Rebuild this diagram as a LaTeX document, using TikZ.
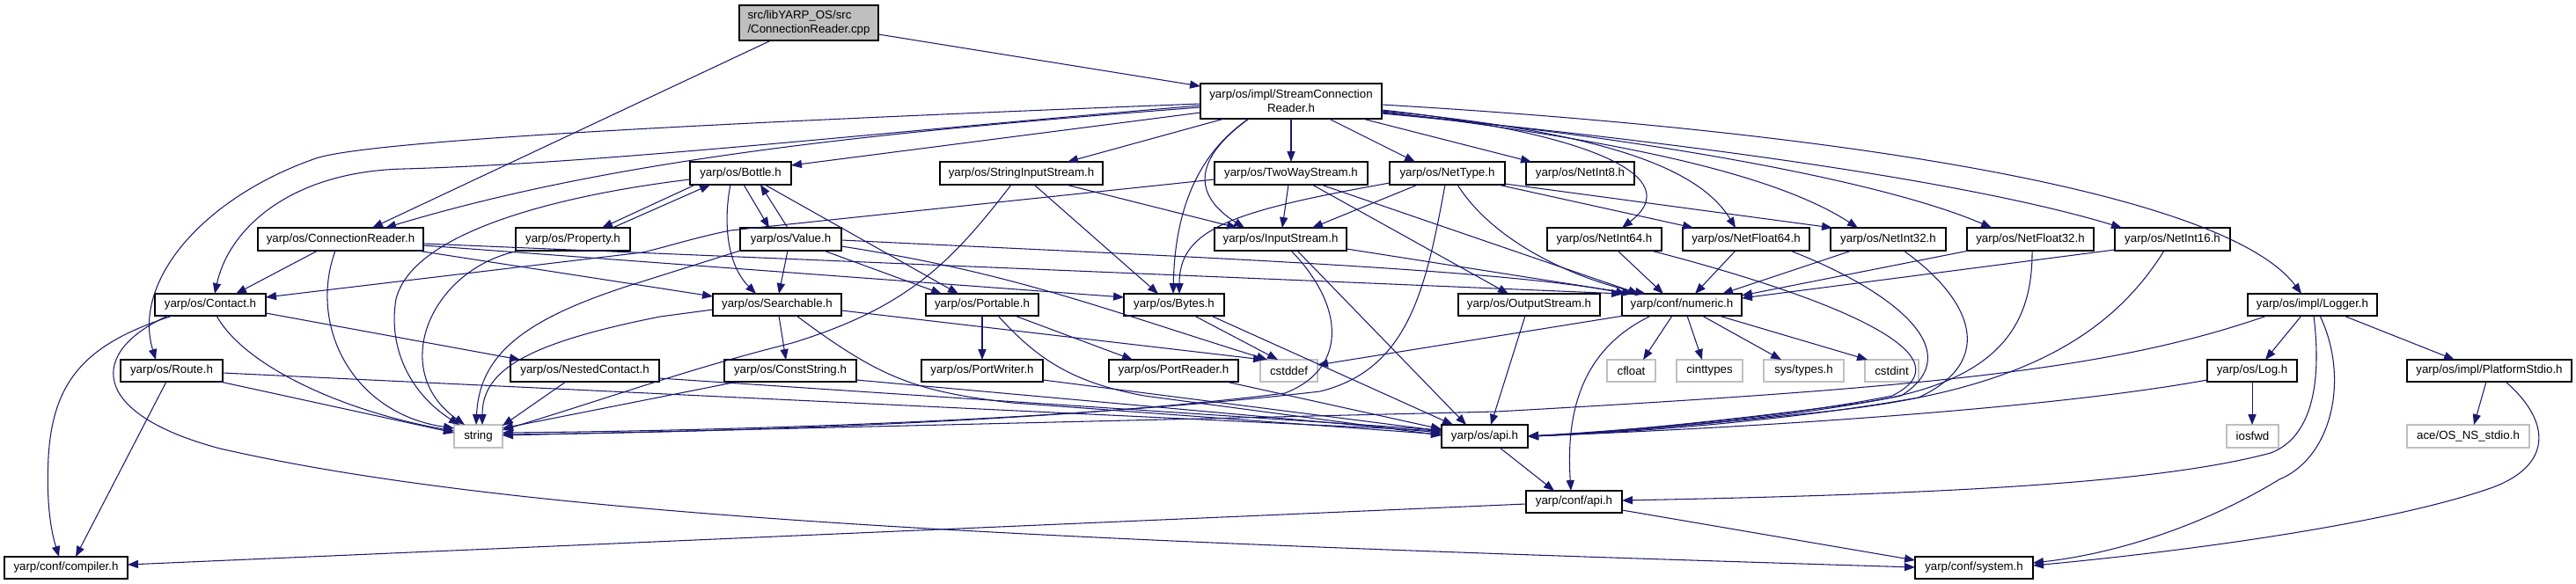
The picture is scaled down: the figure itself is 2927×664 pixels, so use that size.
\documentclass[tikz,border=0pt]{standalone}
\usepackage{fontspec}
\setmainfont{Liberation Sans}
\usetikzlibrary{arrows.meta}
\definecolor{edgecol}{HTML}{191970}
\definecolor{gray75}{HTML}{BFBFBF}
\newcommand\fsz{\fontsize{3.78pt}{4.45pt}\selectfont}
\newcommand\gnode[7]{\node[#2, minimum width={(#5-#3)*0.01cm}, minimum height={(#6-#4)*0.01cm}] (#1) at ({(#3+#5)/2},{(#4+#6)/2}) {#7};}
\tikzset{
 nd/.style={draw=black, line width=0.38pt, fill=white, inner sep=0pt, outer sep=0pt, font=\fsz, text=black},
 ext/.style={nd, draw=gray75},
 rootnd/.style={nd, fill=gray75},
 e/.style={draw=edgecol, line width=0.3pt, -{Triangle[length=3.4pt,width=2.6pt]}}
}
\begin{document}
\begin{tikzpicture}[x=0.01cm, y=-0.01cm]
\useasboundingbox[fill=white] (0,0) rectangle (2927,664);
% nodes
\gnode{root}{rootnd, align=left}{840}{6}{998}{46}{src/libYARP\_OS/src\\/ConnectionReader.cpp}
\gnode{stream}{nd, align=center}{1364}{95}{1570}{135}{yarp/os/impl/StreamConnection\\Reader.h}
\gnode{bottle}{nd}{784}{184}{899}{210}{yarp/os/Bottle.h}
\gnode{sis}{nd}{1068}{184}{1253}{210}{yarp/os/StringInputStream.h}
\gnode{twoway}{nd}{1380}{184}{1554}{210}{yarp/os/TwoWayStream.h}
\gnode{nettype}{nd}{1579}{184}{1710}{210}{yarp/os/NetType.h}
\gnode{netint8}{nd}{1734}{184}{1857}{210}{yarp/os/NetInt8.h}
\gnode{connreader}{nd}{293}{259}{481}{285}{yarp/os/ConnectionReader.h}
\gnode{property}{nd}{586}{259}{716}{285}{yarp/os/Property.h}
\gnode{value}{nd}{841}{259}{956}{285}{yarp/os/Value.h}
\gnode{inputstream}{nd}{1380}{259}{1530}{285}{yarp/os/InputStream.h}
\gnode{netint64}{nd}{1758}{259}{1888}{285}{yarp/os/NetInt64.h}
\gnode{netfloat64}{nd}{1912}{259}{2056}{285}{yarp/os/NetFloat64.h}
\gnode{netint32}{nd}{2080}{259}{2211}{285}{yarp/os/NetInt32.h}
\gnode{netfloat32}{nd}{2235}{259}{2379}{285}{yarp/os/NetFloat32.h}
\gnode{netint16}{nd}{2403}{259}{2534}{285}{yarp/os/NetInt16.h}
\gnode{contact}{nd}{176}{334}{302}{359}{yarp/os/Contact.h}
\gnode{searchable}{nd}{810}{334}{956}{359}{yarp/os/Searchable.h}
\gnode{portable}{nd}{1052}{334}{1180}{359}{yarp/os/Portable.h}
\gnode{bytes}{nd}{1277}{334}{1391}{359}{yarp/os/Bytes.h}
\gnode{outputstream}{nd}{1657}{334}{1818}{359}{yarp/os/OutputStream.h}
\gnode{numeric}{nd}{1843}{334}{1979}{359}{yarp/conf/numeric.h}
\gnode{logger}{nd}{2554}{334}{2701}{359}{yarp/os/impl/Logger.h}
\gnode{route}{nd}{137}{409}{253}{434}{yarp/os/Route.h}
\gnode{nested}{nd}{580}{409}{749}{434}{yarp/os/NestedContact.h}
\gnode{conststring}{nd}{823}{409}{973}{434}{yarp/os/ConstString.h}
\gnode{portwriter}{nd}{1047}{409}{1185}{434}{yarp/os/PortWriter.h}
\gnode{portreader}{nd}{1260}{409}{1407}{434}{yarp/os/PortReader.h}
\gnode{cstddef}{ext}{1432}{409}{1497}{434}{cstddef}
\gnode{cfloat}{ext}{1826}{409}{1881}{434}{cfloat}
\gnode{cinttypes}{ext}{1905}{409}{1980}{434}{cinttypes}
\gnode{systypes}{ext}{2004}{409}{2095}{434}{sys/types.h}
\gnode{cstdint}{ext}{2119}{409}{2180}{434}{cstdint}
\gnode{log}{nd}{2508}{409}{2610}{434}{yarp/os/Log.h}
\gnode{platform}{nd}{2735}{409}{2922}{434}{yarp/os/impl/PlatformStdio.h}
\gnode{string}{ext}{516}{483}{571}{509}{string}
\gnode{osapi}{nd}{1638}{483}{1736}{509}{yarp/os/api.h}
\gnode{iosfwd}{ext}{2530}{483}{2589}{509}{iosfwd}
\gnode{acestdio}{ext}{2735}{483}{2874}{509}{ace/OS\_NS\_stdio.h}
\gnode{confapi}{nd}{1734}{558}{1843}{583}{yarp/conf/api.h}
\gnode{compiler}{nd}{5}{633}{145}{658}{yarp/conf/compiler.h}
\gnode{system}{nd}{2176}{633}{2310}{658}{yarp/conf/system.h}
% edges
\draw[e] (root.south -| 876,0) -- (connreader.north -| 423,0);
\draw[e] (root.east |- 0,39) -- (stream.west |- 0,98);
\draw[e] (stream.west |- 0,118) .. controls (800,140) and (420,160) .. (359,180) .. controls (230,225) and (150,320) .. (route.north -| 177,0);
\draw[e] (stream.west |- 0,120) .. controls (1000,150) and (700,185) .. (459,192) .. controls (330,195) and (260,260) .. (contact.north -| 244,0);
\draw[e] (stream.west |- 0,122) .. controls (1000,150) and (700,180) .. (connreader.north -| 438,0);
\draw[e] (stream.west |- 0,128) -- (bottle.east |- 0,188);
\draw[e] (stream.south -| 1391,0) -- (sis.north -| 1213,0);
\draw[e] (stream.south -| 1419,0) .. controls (1360,175) and (1335,240) .. (bytes.north -| 1333,0);
\draw[e] (stream.south -| 1419,0) .. controls (1350,185) and (1360,225) .. (inputstream.north -| 1414,0);
\draw[e] (stream.south -| 1467,0) -- (twoway.north -| 1467,0);
\draw[e] (stream.south -| 1510,0) -- (nettype.north -| 1608,0);
\draw[e] (stream.south -| 1548,0) -- (netint8.north -| 1740,0);
\draw[e] (stream.east |- 0,125) .. controls (1800,150) and (1920,200) .. (netint64.north -| 1843,0);
\draw[e] (stream.east |- 0,126) .. controls (1820,150) and (1930,190) .. (netfloat64.north -| 1972,0);
\draw[e] (stream.east |- 0,127) .. controls (1850,160) and (2020,200) .. (netint32.north -| 2111,0);
\draw[e] (stream.east |- 0,128) .. controls (1900,160) and (2150,210) .. (netfloat32.north -| 2263,0);
\draw[e] (stream.east |- 0,129) .. controls (1950,165) and (2250,210) .. (netint16.north -| 2411,0);
\draw[e] (stream.east |- 0,119) .. controls (2100,150) and (2530,220) .. (logger.north -| 2615,0);
\draw[e] (bottle.south -| 845,0) -- (value.north -| 874,0);
\draw[e] (value.north -| 895,0) -- (bottle.south -| 864,0);
\draw[e] (bottle.south -| 790,0) -- (property.north -| 684,0);
\draw[e] (property.north -| 696,0) -- (bottle.south -| 807,0);
\draw[e] (bottle.south -| 830,0) .. controls (822,250) and (825,300) .. (searchable.north -| 859,0);
\draw[e] (bottle.south -| 869,0) -- (portable.north -| 1089,0);
\draw[e] (bottle.west |- 0,204) .. controls (650,220) and (470,260) .. (450,340) .. controls (440,400) and (470,450) .. (string.north -| 522,0);
\draw[e] (property.south -| 590,0) .. controls (490,305) and (440,420) .. (string.north -| 528,0);
\draw[e] (twoway.west |- 0,204) -- (830,262) .. controls (790,270) and (760,280) .. (730,287) -- (contact.east |- 0,338);
\draw[e] (connreader.south -| 361,0) -- (contact.north -| 268,0);
\draw[e] (connreader.south -| 381,0) .. controls (350,370) and (400,470) .. (string.west |- 0,487);
\draw[e] (connreader.south -| 474,0) -- (searchable.west |- 0,337);
\draw[e] (connreader.east |- 0,279) -- (bytes.west |- 0,338);
\draw[e] (connreader.east |- 0,277) -- (numeric.north west);
\draw[e] (value.south -| 895,0) -- (searchable.north -| 885,0);
\draw[e] (value.south -| 936,0) -- (portable.north -| 1070,0);
\draw[e] (value.south west) -- (730,320) .. controls (600,360) and (545,400) .. (string.north -| 541,0);
\draw[e] (value.east |- 0,273) .. controls (1300,290) and (1700,305) .. (numeric.north -| 1848,0);
\draw[e] (value.east |- 0,280) .. controls (1150,310) and (1250,350) .. (cstddef.north -| 1440,0);
\draw[e] (searchable.south -| 885,0) -- (conststring.north -| 893,0);
\draw[e] (searchable.south -| 905,0) .. controls (1000,430) and (1040,445) .. (1150,458) -- (osapi.west |- 0,494);
\draw[e] (searchable.west |- 0,352) -- (750,360) .. controls (600,390) and (548,420) .. (string.north -| 548,0);
\draw[e] (searchable.east |- 0,353) -- (cstddef.north -| 1436,0);
\draw[e] (conststring.south -| 838,0) -- (string.east |- 0,487);
\draw[e] (conststring.east |- 0,432) -- (osapi.west |- 0,492);
\draw[e] (portable.south -| 1116,0) -- (portwriter.north -| 1116,0);
\draw[e] (portable.south -| 1153,0) -- (portreader.north -| 1287,0);
\draw[e] (portable.south -| 1134,0) .. controls (1180,410) and (1220,435) .. (1300,450) -- (osapi.west |- 0,495);
\draw[e] (portwriter.east |- 0,432) -- (osapi.west |- 0,490);
\draw[e] (portreader.south -| 1393,0) -- (osapi.west |- 0,488);
\draw[e] (bytes.south -| 1357,0) -- (cstddef.north -| 1452,0);
\draw[e] (bytes.south -| 1376,0) -- (osapi.north -| 1651,0);
\draw[e] (sis.south -| 1149,0) .. controls (1080,300) and (1030,350) .. (900,390) .. controls (780,420) and (700,450) .. (string.east |- 0,489);
\draw[e] (sis.south -| 1175,0) -- (bytes.north -| 1316,0);
\draw[e] (sis.south -| 1211,0) -- (inputstream.north -| 1406,0);
\draw[e] (twoway.south -| 1464,0) -- (inputstream.north -| 1457,0);
\draw[e] (twoway.south -| 1491,0) -- (outputstream.north -| 1714,0);
\draw[e] (twoway.south -| 1501,0) -- (numeric.north -| 1862,0);
\draw[e] (inputstream.east |- 0,283) -- (numeric.north -| 1855,0);
\draw[e] (inputstream.south -| 1467,0) .. controls (1530,350) and (1530,420) .. (1460,447) .. controls (1200,480) and (800,492) .. (string.east |- 0,494);
\draw[e] (inputstream.south -| 1474,0) -- (osapi.north -| 1666,0);
\draw[e] (nettype.west |- 0,208) .. controls (1400,240) and (1340,260) .. (bytes.north -| 1340,0);
\draw[e] (nettype.south -| 1611,0) -- (inputstream.north -| 1491,0);
\draw[e] (nettype.south -| 1642,0) .. controls (1620,330) and (1600,420) .. (1500,445) .. controls (1200,480) and (800,490) .. (string.east |- 0,492);
\draw[e] (nettype.south -| 1656,0) .. controls (1700,280) and (1800,320) .. (numeric.north -| 1870,0);
\draw[e] (nettype.south -| 1702,0) -- (netfloat64.north -| 1924,0);
\draw[e] (nettype.east |- 0,209) -- (netint32.north -| 2082,0);
\draw[e] (netint64.south -| 1838,0) -- (numeric.north -| 1890,0);
\draw[e] (netint64.south -| 1876,0) .. controls (2050,330) and (2250,400) .. (2150,450) .. controls (2000,480) and (1800,492) .. (osapi.east |- 0,496);
\draw[e] (netfloat64.south -| 1972,0) -- (numeric.north -| 1926,0);
\draw[e] (netfloat64.south -| 2034,0) .. controls (2150,330) and (2240,400) .. (2160,450) .. controls (2000,482) and (1800,493) .. (osapi.east |- 0,496);
\draw[e] (netint32.south -| 2104,0) -- (numeric.north -| 1957,0);
\draw[e] (netint32.south -| 2163,0) .. controls (2240,340) and (2270,410) .. (2180,452) .. controls (2000,484) and (1800,494) .. (osapi.east |- 0,496);
\draw[e] (netfloat32.south -| 2237,0) -- (numeric.east |- 0,336);
\draw[e] (netfloat32.south -| 2309,0) .. controls (2310,380) and (2260,440) .. (2100,460) .. controls (1950,480) and (1800,494) .. (osapi.east |- 0,496);
\draw[e] (netint16.west |- 0,284) -- (numeric.east |- 0,339);
\draw[e] (netint16.south -| 2459,0) .. controls (2400,380) and (2300,440) .. (2100,465) .. controls (1950,482) and (1800,494) .. (osapi.east |- 0,496);
\draw[e] (logger.south -| 2576,0) .. controls (2400,420) and (2200,440) .. (1700,468) -- (string.east |- 0,495);
\draw[e] (logger.south -| 2615,0) -- (log.north -| 2574,0);
\draw[e] (logger.south -| 2663,0) -- (platform.north -| 2789,0);
\draw[e] (logger.south -| 2629,0) .. controls (2640,450) and (2620,500) .. (2580,515) .. controls (2450,550) and (2200,562) .. (confapi.east |- 0,569);
\draw[e] (logger.south -| 2636,0) .. controls (2670,430) and (2650,520) .. (2590,545) .. controls (2500,600) and (2400,630) .. (system.east |- 0,640);
\draw[e] (log.south -| 2559,0) -- (iosfwd.north -| 2559,0);
\draw[e] (log.west |- 0,432) .. controls (2300,470) and (1900,490) .. (osapi.east |- 0,496);
\draw[e] (platform.south -| 2825,0) -- (acestdio.north -| 2811,0);
\draw[e] (platform.south -| 2847,0) .. controls (2900,480) and (2900,530) .. (2830,555) .. controls (2700,600) and (2450,630) .. (system.east |- 0,643);
\draw[e] (numeric.south -| 1845,0) -- (cstddef.east |- 0,415);
\draw[e] (numeric.south -| 1900,0) -- (cfloat.north -| 1867,0);
\draw[e] (numeric.south -| 1917,0) -- (cinttypes.north -| 1934,0);
\draw[e] (numeric.south -| 1934,0) -- (systypes.north -| 2024,0);
\draw[e] (numeric.south -| 1953,0) -- (cstdint.north -| 2122,0);
\draw[e] (numeric.south -| 1876,0) .. controls (1790,400) and (1780,480) .. (confapi.north -| 1785,0);
\draw[e] (osapi.south -| 1704,0) -- (confapi.north -| 1766,0);
\draw[e] (outputstream.south -| 1733,0) -- (osapi.north -| 1694,0);
\draw[e] (confapi.east |- 0,580) -- (system.west |- 0,637);
\draw[e] (confapi.west |- 0,573) -- (compiler.east |- 0,642);
\draw[e] (contact.south -| 191,0) .. controls (100,400) and (100,470) .. (250,510) .. controls (600,590) and (1200,615) .. (system.west |- 0,645);
\draw[e] (contact.south -| 196,0) .. controls (100,390) and (60,430) .. (55,520) .. controls (52,580) and (60,610) .. (compiler.north -| 67,0);
\draw[e] (contact.south -| 246,0) .. controls (280,420) and (400,470) .. (string.west |- 0,490);
\draw[e] (contact.east |- 0,356) -- (nested.north -| 591,0);
\draw[e] (route.south -| 189,0) -- (compiler.north -| 86,0);
\draw[e] (route.south -| 250,0) -- (string.west |- 0,492);
\draw[e] (route.east |- 0,424) -- (osapi.west |- 0,490);
\draw[e] (nested.south -| 643,0) -- (string.east |- 0,484);
\draw[e] (nested.east |- 0,430) -- (osapi.west |- 0,489);
\end{tikzpicture}
\end{document}
